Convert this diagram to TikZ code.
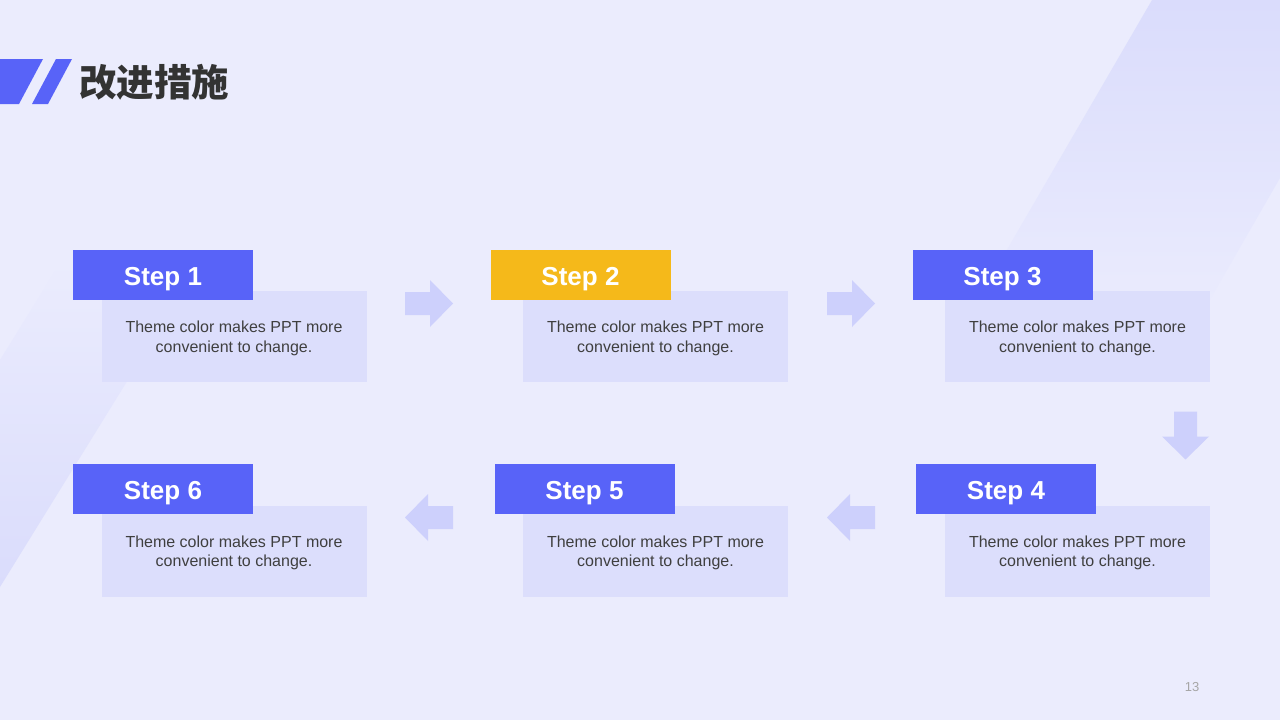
\documentclass[tikz,border=0pt]{standalone}
\usepackage{fontspec}
\setmainfont{Liberation Sans}
\newfontfamily\cjk{Noto Sans CJK SC}
\usetikzlibrary{positioning}

\definecolor{pagebg}{HTML}{EBECFD}
\definecolor{bandcol}{HTML}{DADCFC}
\definecolor{stepblue}{HTML}{5863F8}
\definecolor{stepyellow}{HTML}{F5B91A}
\definecolor{boxfill}{HTML}{DCDEFC}
\definecolor{arrowcol}{HTML}{CDD0FC}
\definecolor{bodytext}{HTML}{3F3F3F}
\definecolor{titletext}{HTML}{333333}

\tikzset{
  header/.style={fill=stepblue, minimum width=180pt, minimum height=50pt,
    inner sep=0pt, text height=21pt, text depth=0pt, text=white,
    font=\fontsize{26}{28}\selectfont\bfseries},
  textbox/.style={fill=boxfill, minimum width=265pt, minimum height=91pt,
    inner sep=0pt, align=center, text depth=0pt, text=bodytext,
    font=\fontsize{16}{19.5}\selectfont},
  flowarrow/.pic={
    \fill[arrowcol] (-24,-11.5) -- (1,-11.5) -- (1,-23.5) -- (24,0)
      -- (1,23.5) -- (1,11.5) -- (-24,11.5) -- cycle;
  }
}

\begin{document}
\begin{tikzpicture}[x=1pt, y=-1pt]
  \fill[pagebg] (0,0) rectangle (1280,720);
  \useasboundingbox (0,0) rectangle (1280,720);

  % background bands
  \shade[top color=bandcol, bottom color=pagebg]
    (1152,0) -- (1280,0) -- (1280,178) -- (1197,322) -- (965,322) -- cycle;
  \shade[top color=pagebg, bottom color=bandcol]
    (62,260) -- (202,260) -- (0,587) -- (0,360) -- cycle;

  % title
  \fill[stepblue] (0,59) -- (43,59) -- (19,104) -- (0,104) -- cycle;
  \fill[stepblue] (56,59) -- (72,59) -- (48,104) -- (32,104) -- cycle;
  \node[anchor=west, text=titletext, inner sep=0pt,
    font=\cjk\bfseries\fontsize{37.5}{40}\selectfont] (title) at (79,82) {改进措施};

  % first row
  \node[textbox] (text1) at (234,336.5) {Theme color makes PPT more\\convenient to change.};
  \node[header] (step1) at (163,274.5) {Step 1};
  \node[textbox] (text2) at (655.5,336.5) {Theme color makes PPT more\\convenient to change.};
  \node[header, fill=stepyellow] (step2) at (580.5,274.5) {Step 2};
  \node[textbox] (text3) at (1077.5,336.5) {Theme color makes PPT more\\convenient to change.};
  \node[header] (step3) at (1002.5,274.5) {Step 3};

  % second row
  \node[textbox] (text4) at (1077.5,551) {Theme color makes PPT more\\convenient to change.};
  \node[header] (step4) at (1006,489) {Step 4};
  \node[textbox] (text5) at (655.5,551) {Theme color makes PPT more\\convenient to change.};
  \node[header] (step5) at (584.5,489) {Step 5};
  \node[textbox] (text6) at (234,551) {Theme color makes PPT more\\convenient to change.};
  \node[header] (step6) at (163,489) {Step 6};

  % arrows
  \pic at (429,303.5) {flowarrow};
  \pic at (851,303.5) {flowarrow};
  \pic[rotate=-90] at (1185.5,435.5) {flowarrow};
  \pic[rotate=180] at (851,517.5) {flowarrow};
  \pic[rotate=180] at (429,517.5) {flowarrow};

  % page number
  \node[text=black!35, font=\fontsize{13}{15}\selectfont] (pagenum) at (1192,687) {13};
\end{tikzpicture}
\end{document}
